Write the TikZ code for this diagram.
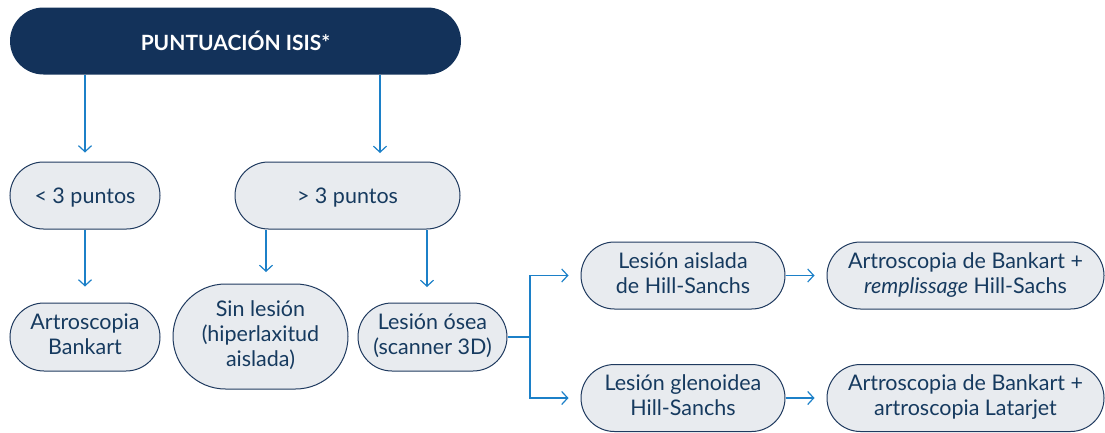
\documentclass[tikz,border=0pt]{standalone}
\usepackage{fontspec}
\setmainfont{Lato}
\usetikzlibrary{shapes.misc,arrows.meta}
\definecolor{navy}{HTML}{13325A}
\definecolor{boxfill}{HTML}{E8EBEF}
\definecolor{boxline}{HTML}{1F3A5F}
\definecolor{txt}{HTML}{163A5F}
\definecolor{arrblue}{HTML}{1C80C8}
\begin{document}
\begin{tikzpicture}[x=1pt,y=-1pt,
 box/.style={rounded rectangle, draw=boxline, fill=boxfill, line width=1pt, text=txt, align=center, font=\fontsize{21.5}{25}\selectfont, inner sep=0pt,
   execute at begin node={\rule{0pt}{21pt}}, execute at end node={\rule[-5pt]{0pt}{5pt}}},
 arr/.style={draw=arrblue, line width=1.2pt, -{Straight Barb[length=6pt,width=13pt]}},
 ln/.style={draw=arrblue, line width=1.2pt}]
\useasboundingbox (0,0) rectangle (1105,432);
\node[rounded rectangle, fill=navy, text=white, font=\bfseries\fontsize{21}{24}\selectfont, minimum width=451pt, minimum height=67pt, inner sep=0pt] (isis) at (235.5,41) {PUNTUACIÓN ISIS*};
\node[box, minimum width=150pt, minimum height=67pt] (lt) at (85,195.5) {< 3 puntos};
\node[box, minimum width=225pt, minimum height=67pt] (gt) at (347.5,195.5) {> 3 puntos};
\node[box, minimum width=150pt, minimum height=68pt] (bk) at (85,337) {Artroscopia\\Bankart};
\node[box, minimum width=175pt, minimum height=105pt] (sin) at (260.5,336.5) {Sin lesión\\(hiperlaxitud\\aislada)};
\node[box, minimum width=149pt, minimum height=68pt] (osea) at (432.5,337) {Lesión ósea\\(scanner 3D)};
\node[box, minimum width=204pt, minimum height=67pt] (ais) at (683,275.5) {Lesión aislada\\de Hill-Sanchs};
\node[box, minimum width=204pt, minimum height=67pt] (gle) at (683,398) {Lesión glenoidea\\Hill-Sanchs};
\node[box, minimum width=277pt, minimum height=67pt] (rem) at (965.5,275.5) {Artroscopia de Bankart +\\\textit{remplissage} Hill-Sachs};
\node[box, minimum width=277pt, minimum height=67pt] (lat) at (965.5,398) {Artroscopia de Bankart +\\artroscopia Latarjet};
\coordinate (g1) at (380,153);
\coordinate (s1) at (266,272);
\coordinate (o1) at (427,287);
\coordinate (br) at (530,337);
\draw[arr] (isis.south -| lt) -- ([yshift=9pt]lt.north);
\draw[arr] (isis.south -| g1) -- (g1);
\draw[arr] (lt.south) -- ([yshift=16pt]bk.north);
\draw[arr] (gt.south -| s1) -- (s1);
\draw[arr] (gt.south -| o1) -- (o1);
\draw[ln] (osea.east) -- (br);
\draw[arr] (br) |- ([xshift=-12pt]ais.west);
\draw[arr] (br) |- ([xshift=-12pt]gle.west);
\draw[arr] (ais.east) -- ([xshift=-12pt]rem.west);
\draw[arr] (gle.east) -- ([xshift=-12pt]lat.west);
\end{tikzpicture}
\end{document}
